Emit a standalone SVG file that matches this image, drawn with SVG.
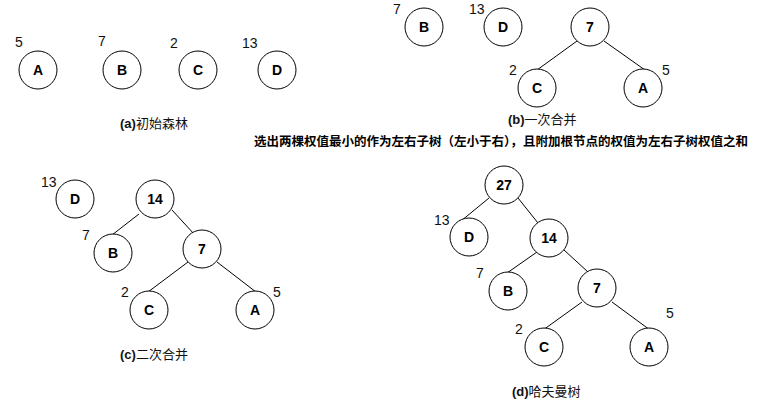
<svg xmlns="http://www.w3.org/2000/svg" width="779" height="407" viewBox="0 0 779 407">
<style>
.n circle{fill:#fff;stroke:#000;stroke-width:1}
.lb{font-family:"Liberation Sans","Noto Sans CJK SC",sans-serif;font-size:14px;font-weight:bold;text-anchor:middle;fill:#000}
.w{font-family:"Liberation Sans","Noto Sans CJK SC",sans-serif;font-size:14px;fill:#111}
.cap{font-family:"Liberation Sans","Noto Sans CJK SC",sans-serif;font-size:13px;fill:#111}
.b{font-weight:bold}
.note{font-family:"Liberation Sans","Noto Sans CJK SC",sans-serif;font-size:12.4px;font-weight:bold;fill:#000}
.e line{stroke:#000;stroke-width:1}
</style>
<rect width="779" height="407" fill="#fff"/>
<g id="connectors" class="e">
<line x1="577" y1="41" x2="537" y2="70"/>
<line x1="604" y1="41" x2="645" y2="70"/>
<line x1="139" y1="214" x2="112" y2="235"/>
<line x1="172" y1="210" x2="194" y2="234"/>
<line x1="188" y1="262" x2="148" y2="292"/>
<line x1="217" y1="262" x2="256" y2="292"/>
<line x1="489" y1="198" x2="461" y2="221"/>
<line x1="518" y1="198" x2="538" y2="223"/>
<line x1="537" y1="252" x2="507" y2="273"/>
<line x1="564" y1="250" x2="588" y2="272"/>
<line x1="582" y1="302" x2="543" y2="330"/>
<line x1="612" y1="302" x2="650" y2="330"/>
</g>
<g id="a-A" class="n"><circle cx="38" cy="70" r="19"/><text class="lb" x="38" y="75">A</text><text class="w" x="15" y="47">5</text></g>
<g id="a-B" class="n"><circle cx="122" cy="70" r="19"/><text class="lb" x="122" y="75">B</text><text class="w" x="98" y="46">7</text></g>
<g id="a-C" class="n"><circle cx="198" cy="70" r="19"/><text class="lb" x="198" y="75">C</text><text class="w" x="170" y="48">2</text></g>
<g id="a-D" class="n"><circle cx="277" cy="70" r="19"/><text class="lb" x="277" y="75">D</text><text class="w" x="242" y="48">13</text></g>
<text class="cap" x="120" y="128"><tspan class="b">(a)</tspan>初始森林</text>
<g id="b-B" class="n"><circle cx="424" cy="27" r="19"/><text class="lb" x="424" y="32">B</text><text class="w" x="393" y="14">7</text></g>
<g id="b-D" class="n"><circle cx="503" cy="27" r="19"/><text class="lb" x="503" y="32">D</text><text class="w" x="469" y="14">13</text></g>
<g id="b-7" class="n"><circle cx="590" cy="27" r="19"/><text class="lb" x="590" y="32">7</text></g>
<g id="b-C" class="n"><circle cx="537" cy="88" r="19"/><text class="lb" x="537" y="93">C</text><text class="w" x="509" y="75">2</text></g>
<g id="b-A" class="n"><circle cx="643" cy="88" r="19"/><text class="lb" x="643" y="93">A</text><text class="w" x="662" y="75">5</text></g>
<text class="cap" x="508" y="124"><tspan class="b">(b)</tspan>一次合并</text>
<text class="note" x="254" y="146" textLength="494" lengthAdjust="spacingAndGlyphs">选出两棵权值最小的作为左右子树（左小于右），且附加根节点的权值为左右子树权值之和</text>
<g id="c-D" class="n"><circle cx="75" cy="199" r="19"/><text class="lb" x="75" y="204">D</text><text class="w" x="41" y="187">13</text></g>
<g id="c-14" class="n"><circle cx="155" cy="199" r="19"/><text class="lb" x="155" y="204">14</text></g>
<g id="c-B" class="n"><circle cx="113" cy="253" r="19"/><text class="lb" x="113" y="258">B</text><text class="w" x="82" y="240">7</text></g>
<g id="c-7" class="n"><circle cx="202" cy="249" r="19"/><text class="lb" x="202" y="254">7</text></g>
<g id="c-C" class="n"><circle cx="149" cy="310" r="19"/><text class="lb" x="149" y="315">C</text><text class="w" x="121" y="297">2</text></g>
<g id="c-A" class="n"><circle cx="255" cy="310" r="19"/><text class="lb" x="255" y="315">A</text><text class="w" x="273" y="297">5</text></g>
<text class="cap" x="120" y="359"><tspan class="b">(c)</tspan>二次合并</text>
<g id="d-27" class="n"><circle cx="504" cy="185" r="19"/><text class="lb" x="504" y="190">27</text></g>
<g id="d-D" class="n"><circle cx="469" cy="237" r="19"/><text class="lb" x="469" y="242">D</text><text class="w" x="434" y="225">13</text></g>
<g id="d-14" class="n"><circle cx="549" cy="238" r="19"/><text class="lb" x="549" y="243">14</text></g>
<g id="d-B" class="n"><circle cx="508" cy="291" r="19"/><text class="lb" x="508" y="296">B</text><text class="w" x="476" y="278">7</text></g>
<g id="d-7" class="n"><circle cx="597" cy="288" r="19"/><text class="lb" x="597" y="293">7</text></g>
<g id="d-C" class="n"><circle cx="544" cy="347" r="19"/><text class="lb" x="544" y="352">C</text><text class="w" x="515" y="334">2</text></g>
<g id="d-A" class="n"><circle cx="649" cy="347" r="19"/><text class="lb" x="649" y="352">A</text><text class="w" x="666" y="318">5</text></g>
<text class="cap" x="512" y="396"><tspan class="b">(d)</tspan>哈夫曼树</text>
</svg>
